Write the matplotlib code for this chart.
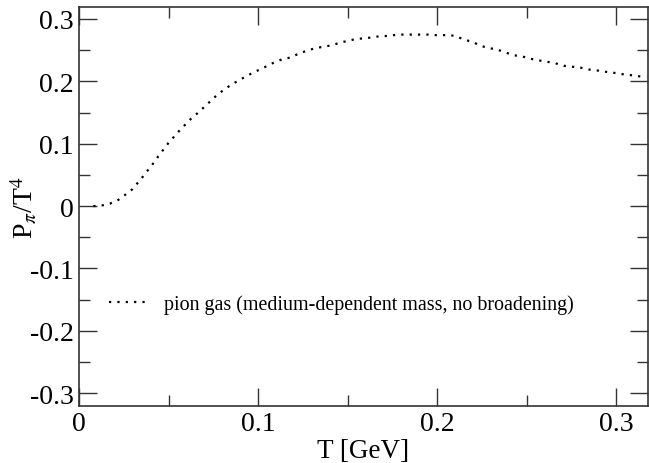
import matplotlib
matplotlib.use('Agg')
import matplotlib.pyplot as plt
from matplotlib.ticker import MultipleLocator

plt.rcParams['font.family'] = ['Liberation Serif', 'DejaVu Serif']
plt.rcParams['mathtext.fontset'] = 'stix'

# pion gas pressure P/T^4 vs temperature
T = [0.008, 0.0127, 0.0173, 0.022, 0.0266, 0.0298, 0.0359, 0.0383, 0.0424,
     0.0443, 0.0499, 0.0564, 0.0625, 0.067, 0.0718, 0.0763, 0.0806, 0.0852,
     0.0898, 0.0945, 0.0991, 0.1038, 0.1084, 0.1131, 0.1177, 0.1224, 0.127,
     0.1317, 0.1363, 0.141, 0.1456, 0.1503, 0.1546, 0.1592, 0.1639, 0.1685,
     0.173, 0.1776, 0.1825, 0.1871, 0.1918, 0.1964, 0.2009, 0.2057, 0.2104,
     0.2148, 0.2195, 0.2242, 0.2288, 0.2331, 0.2381, 0.2424, 0.2474, 0.252,
     0.2567, 0.2613, 0.266, 0.2706, 0.2753, 0.28, 0.2846, 0.2892, 0.2939,
     0.2985, 0.3032, 0.3079, 0.3121, 0.3168]
P = [0.0, 0.001, 0.004, 0.010, 0.0198, 0.027, 0.048, 0.057, 0.072,
     0.080, 0.101, 0.122, 0.140, 0.151, 0.164, 0.176, 0.186, 0.195,
     0.2025, 0.210, 0.2165, 0.223, 0.2295, 0.235, 0.238, 0.244, 0.249,
     0.253, 0.2555, 0.2577, 0.262, 0.265, 0.268, 0.269, 0.2706, 0.2727,
     0.2727, 0.275, 0.275, 0.275, 0.275, 0.275, 0.2735, 0.2745, 0.2727,
     0.267, 0.2636, 0.257, 0.2534, 0.2513, 0.2465, 0.242, 0.240, 0.2363,
     0.2336, 0.2315, 0.229, 0.225, 0.2235, 0.222, 0.219, 0.2175, 0.2154,
     0.2138, 0.2116, 0.21, 0.2084, 0.2063]
label = 'pion gas (medium-dependent mass, no broadening)'

fig = plt.figure(figsize=(6.49, 4.64), dpi=100)
ax = fig.add_axes([0.1217, 0.1235, 0.8763, 0.8603])

ax.plot(T, P, color='black', linestyle=(0, (1, 2.76)), linewidth=1.6,
        dash_capstyle='butt', label=label)

ax.set_xlim(0, 0.3175)
ax.set_ylim(-0.32, 0.32)
ax.xaxis.set_minor_locator(MultipleLocator(0.05))
ax.yaxis.set_minor_locator(MultipleLocator(0.05))
ax.set_xticks([0, 0.1, 0.2, 0.3])
ax.set_xticklabels(['0', '0.1', '0.2', '0.3'])
ax.set_yticks([-0.3, -0.2, -0.1, 0, 0.1, 0.2, 0.3])
ax.set_yticklabels(['-0.3', '-0.2', '-0.1', '0', '0.1', '0.2', '0.3'])
ax.tick_params(which='both', direction='in', top=True, right=True,
               labelsize=20, width=1, color='#333333')
ax.tick_params(which='major', length=13, pad=4)
ax.tick_params(which='minor', length=8)
for s in ax.spines.values():
    s.set_linewidth(1.2)
    s.set_color('#333333')

ax.set_xlabel('T [GeV]', fontsize=19.5)
ax.set_ylabel(r'P$_\pi$/T$^4$', fontsize=20)
ax.xaxis.set_label_coords(0.5, -0.081)
ax.yaxis.set_label_coords(-0.069, 0.5)

ax.legend(loc='upper left', bbox_to_anchor=(0.021, 0.325), frameon=False,
          fontsize=14.4, handlelength=2.0, handletextpad=0.75)

fig.savefig('out.png', dpi=100)
